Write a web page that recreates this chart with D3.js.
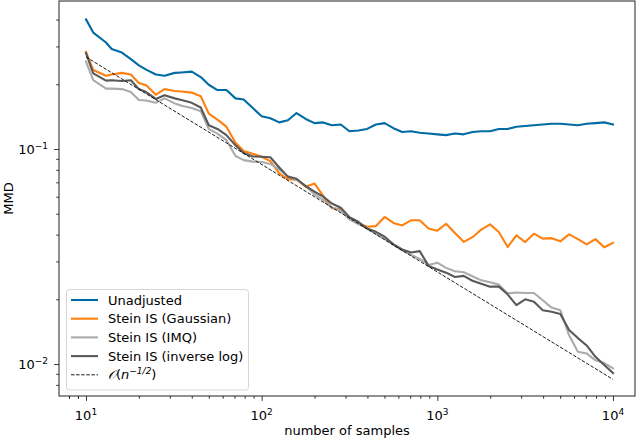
<!DOCTYPE html>
<html><head><meta charset="utf-8">
<script src="https://cdn.jsdelivr.net/npm/d3@7"></script>
<style>body{margin:0;background:#fff}svg{display:block}text{font-family:"DejaVu Sans",sans-serif}</style>
</head><body>
<svg id="c" width="640" height="440"></svg>
<script>
const samples = [10,11,13,14,16,18,20,22,25,28,32,35,40,45,50,56,63,71,79,89,
 100,112,126,141,158,178,200,224,251,282,316,355,398,447,501,562,631,708,794,891,
 1000,1122,1259,1413,1585,1778,1995,2239,2512,2818,3162,3548,3981,4467,5012,5623,6310,7079,7943,8913,10000];

const unadjusted = [0.401,0.348,0.313,0.292,0.281,0.262,0.245,0.234,0.222,0.219,
 0.226,0.227,0.229,0.216,0.199,0.188,0.188,0.172,0.170,0.155,
 0.142,0.139,0.133,0.136,0.147,0.138,0.132,0.133,0.129,0.130,
 0.121,0.122,0.124,0.130,0.132,0.125,0.120,0.121,0.119,0.118,
 0.117,0.116,0.118,0.117,0.120,0.121,0.121,0.124,0.124,0.127,
 0.128,0.129,0.130,0.131,0.131,0.130,0.129,0.131,0.132,0.133,0.130];

const steinGaussian = [0.283,0.233,0.219,0.222,0.226,0.222,0.203,0.198,0.179,0.190,
 0.186,0.185,0.183,0.176,0.146,0.137,0.127,0.107,0.098,0.095,
 0.092,0.0878,0.0771,0.0724,0.0720,0.0668,0.0691,0.0606,0.0530,0.0526,
 0.0473,0.0451,0.0435,0.0438,0.0483,0.0453,0.0441,0.0466,0.0466,0.0427,
 0.0417,0.0449,0.0407,0.0370,0.0389,0.0422,0.0446,0.0411,0.0350,0.0397,
 0.0369,0.0404,0.0383,0.0385,0.0372,0.0401,0.0381,0.0360,0.0381,0.0349,0.0366];

const steinIMQ = [0.255,0.209,0.191,0.191,0.190,0.184,0.169,0.168,0.164,0.172,
 0.163,0.159,0.155,0.150,0.124,0.118,0.110,0.0928,0.0888,0.0874,
 0.0870,0.0852,0.0803,0.0745,0.0718,0.0676,0.0613,0.0580,0.0534,0.0516,
 0.0471,0.0448,0.0427,0.0403,0.0382,0.0359,0.0338,0.0322,0.0308,0.0289,
 0.0296,0.0280,0.0270,0.0267,0.0256,0.0245,0.0240,0.0234,0.0213,0.0215,
 0.0214,0.0214,0.0198,0.0183,0.0178,0.0136,0.0114,0.0112,0.0104,0.0101,0.00955];

const steinInvLog = [0.279,0.225,0.208,0.209,0.207,0.209,0.190,0.184,0.171,0.178,
 0.172,0.169,0.164,0.156,0.129,0.124,0.116,0.104,0.0958,0.0923,
 0.0921,0.0915,0.0820,0.0744,0.0727,0.0671,0.0633,0.0601,0.0558,0.0533,
 0.0482,0.0459,0.0427,0.0412,0.0391,0.0360,0.0341,0.0330,0.0335,0.0286,
 0.0275,0.0266,0.0254,0.0257,0.0244,0.0236,0.0229,0.0229,0.0211,0.0188,
 0.0200,0.0195,0.0178,0.0175,0.0171,0.0144,0.0132,0.0122,0.0108,0.00989,0.00907];

const refSamples = [10, 10000];
const refValues = [0.268, 0.00848];

const xTicks = [10, 100, 1000, 10000];
const xTickExp = ["1", "2", "3", "4"];
const yTicks = [0.01, 0.1];
const yTickExp = ["\u22122", "\u22121"];

const seriesNames = ["Unadjusted", "Stein IS (Gaussian)", "Stein IS (IMQ)", "Stein IS (inverse log)"];
const seriesValues = [unadjusted, steinGaussian, steinIMQ, steinInvLog];
const seriesColors = ["#006BA4", "#FF800E", "#ABABAB", "#595959"];

const L = 59, R = 635, T = 1, B = 396;
const svg = d3.select("#c");
const x = d3.scaleLog().domain([7.02, 13340]).range([L, R]);
const y = d3.scaleLog().domain([0.00710, 0.488]).range([B, T]);

const g = svg.append("g");
const line = d3.line().x(d => x(d[0])).y(d => y(d[1]));

seriesValues.forEach((vals, i) => {
  g.append("path")
    .datum(samples.map((n, j) => [n, vals[j]]))
    .attr("d", line)
    .attr("fill", "none")
    .attr("stroke", seriesColors[i])
    .attr("stroke-width", 2.1)
    .attr("stroke-linejoin", "round")
    .attr("stroke-linecap", "square");
});

g.append("path")
  .datum(refSamples.map((n, j) => [n, refValues[j]]))
  .attr("d", line)
  .attr("fill", "none")
  .attr("stroke", "#000")
  .attr("stroke-width", 0.9)
  .attr("stroke-dasharray", "3.5,1.6");

// axes
const xMinor = [];
[1, 10, 100, 1000].forEach(d => { for (let k = 2; k <= 9; k++) xMinor.push(d * k); });
xMinor.push(8, 9);
const yMinor = [];
[0.001, 0.01, 0.1].forEach(d => { for (let k = 2; k <= 9; k++) yMinor.push(+(d * k).toPrecision(3)); });

const xAxis = svg.append("g").attr("transform", `translate(0,${B})`);
xAxis.call(d3.axisBottom(x).tickValues(xMinor.filter(v => v >= x.domain()[0] && v <= x.domain()[1] && !xTicks.includes(v))).tickSize(2.8).tickFormat(""));
const xAxisM = svg.append("g").attr("transform", `translate(0,${B})`);
xAxisM.call(d3.axisBottom(x).tickValues(xTicks).tickSize(4.9).tickFormat(""));

const yAxis = svg.append("g").attr("transform", `translate(${L},0)`);
yAxis.call(d3.axisLeft(y).tickValues(yMinor.filter(v => v >= y.domain()[0] && v <= y.domain()[1])).tickSize(2.8).tickFormat(""));
const yAxisM = svg.append("g").attr("transform", `translate(${L},0)`);
yAxisM.call(d3.axisLeft(y).tickValues(yTicks).tickSize(4.9).tickFormat(""));

svg.selectAll(".domain").remove();
svg.selectAll(".tick line").attr("stroke", "#222").attr("stroke-width", 0.9);

svg.append("rect").attr("x", L).attr("y", T).attr("width", R - L).attr("height", B - T)
  .attr("fill", "none").attr("stroke", "#222").attr("stroke-width", 1);

// tick labels
xTicks.forEach((v, i) => {
  const t = svg.append("text").attr("x", x(v)).attr("y", 420).attr("text-anchor", "middle")
    .attr("font-size", 13).attr("fill", "#000");
  t.append("tspan").text("10");
  t.append("tspan").attr("dy", -5.5).attr("font-size", 9).text(xTickExp[i]);
});
yTicks.forEach((v, i) => {
  const t = svg.append("text").attr("x", 48).attr("y", y(v) + 5).attr("text-anchor", "end")
    .attr("font-size", 13).attr("fill", "#000");
  t.append("tspan").text("10");
  t.append("tspan").attr("dy", -5.5).attr("font-size", 9).text(yTickExp[i]);
});

svg.append("text").attr("x", (L + R) / 2).attr("y", 435).attr("text-anchor", "middle")
  .attr("font-size", 13).text("number of samples");
svg.append("text").attr("transform", `translate(13,${(T + B) / 2}) rotate(-90)`).attr("text-anchor", "middle")
  .attr("font-size", 13).text("MMD");

// legend
const lg = svg.append("g");
lg.append("rect").attr("x", 66.5).attr("y", 289.5).attr("width", 182).attr("height", 100.5)
  .attr("rx", 3).attr("fill", "#fff").attr("fill-opacity", 0.8).attr("stroke", "#d6d6d6").attr("stroke-width", 1);
const rowY = i => 300 + i * 18.7;
seriesNames.forEach((name, i) => {
  lg.append("line").attr("x1", 71).attr("x2", 98).attr("y1", rowY(i)).attr("y2", rowY(i))
    .attr("stroke", seriesColors[i]).attr("stroke-width", 2.1);
  lg.append("text").attr("x", 108).attr("y", rowY(i) + 4.6).attr("font-size", 13).text(name);
});
lg.append("line").attr("x1", 71).attr("x2", 98).attr("y1", rowY(4)).attr("y2", rowY(4))
  .attr("stroke", "#000").attr("stroke-width", 0.9).attr("stroke-dasharray", "3.5,1.6");
const lt = lg.append("text").attr("x", 108).attr("y", rowY(4) + 4.6).attr("font-size", 13);
lt.append("tspan").attr("font-family", "'DejaVu Sans', 'Noto Sans', serif").attr("font-style", "italic").text("\uD835\uDCAA");
lt.append("tspan").text("(");
lt.append("tspan").attr("font-style", "italic").text("n");
lt.append("tspan").attr("dy", -5.5).attr("font-size", 9).attr("font-style", "italic").text("\u22121/2");
lt.append("tspan").attr("dy", 5.5).text(")");
</script>
</body></html>
